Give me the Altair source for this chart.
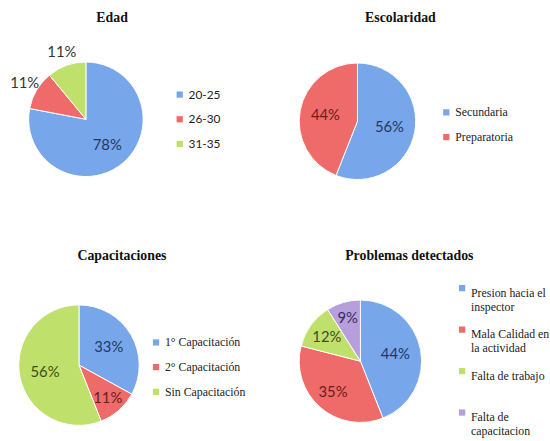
import altair as alt
import pandas as pd

# ---- data ----
edad_cats = ["20-25", "26-30", "31-35"]
edad_vals = [78, 11, 11]

esc_cats = ["Secundaria", "Preparatoria"]
esc_vals = [56, 44]

cap_cats = ["1° Capacitación", "2° Capacitación", "Sin Capacitación"]
cap_vals = [33, 11, 56]

prob_cats = ["Presion hacia el|inspector", "Mala Calidad en|la actividad",
             "Falta de trabajo|\u00a0", "Falta de|capacitacion"]
prob_vals = [44, 35, 12, 9]

BLUE, RED, GREEN, PURPLE = "#78a6ea", "#ee6b69", "#bfe06b", "#b69fdc"
DBLUE, DRED, DGREEN, DPURPLE, GRAY = "#1f3864", "#6b1c1c", "#3f4d1a", "#3b2b5a", "#333333"

SERIF = "Liberation Serif"
SANS = "Liberation Sans Narrow, Lato, sans-serif"


def panel(cats, vals, colors, lcolors, lradius, title, title_dx, cx, cy, R,
          lx, ly, lfont, lsize, rowpad, height, multiline=False):
    df = pd.DataFrame({
        "cat": cats, "val": vals, "idx": list(range(len(cats))),
        "pct": [f"{v}%" for v in vals], "lc": lcolors, "lr": lradius,
    })
    base = alt.Chart(df).encode(
        theta=alt.Theta("val:Q", stack=True),
        order=alt.Order("idx:Q"),
        x=alt.value(cx), y=alt.value(cy),
    )
    leg = dict(orient="none", legendX=lx, legendY=ly, title=None,
               symbolType="square", symbolSize=40, symbolStrokeWidth=0,
               labelFont=lfont, labelFontSize=lsize, labelColor="#222222",
               rowPadding=rowpad, labelOffset=3, labelLimit=300)
    if multiline:
        leg["labelExpr"] = "split(datum.label, '|')"
        leg["labelBaseline"] = "top"
    arc = base.mark_arc(radius=R, stroke="white", strokeWidth=1).encode(
        color=alt.Color("cat:N", sort=cats,
                        scale=alt.Scale(domain=cats, range=colors),
                        legend=alt.Legend(**leg)),
    )
    layers = [arc]
    for r in sorted(set(lradius)):
        t = base.transform_calculate(
            t=f"datum.lr == {r} ? datum.pct : ''"
        ).mark_text(font=SANS, fontSize=15, radius=r).encode(
            text="t:N",
            fill=alt.Fill("lc:N", scale=None),
        )
        layers.append(t)
    return alt.layer(*layers).properties(
        width=275, height=height,
        title=alt.TitleParams(title, font=SERIF, fontSize=14, fontWeight="bold",
                              color="#111111", anchor="middle", frame="group",
                              dx=title_dx, offset=6),
    )


H1, H2 = 185, 168

p1 = panel(edad_cats, edad_vals, [BLUE, RED, GREEN], [DBLUE, GRAY, GRAY],
           [34, 72, 72], "Edad", -24, 87, 90, 58,
           176, 59, SANS, 12, 13, H1)
p2 = panel(esc_cats, esc_vals, [BLUE, RED], [DBLUE, DRED],
           [33, 33], "Escolaridad", -7, 87, 92, 59,
           171, 77, SERIF, 12, 13, H1)
p3 = panel(cap_cats, cap_vals, [BLUE, RED, GREEN], [DBLUE, DRED, DGREEN],
           [35, 44, 35], "Capacitaciones", -14, 80, 97, 61,
           152, 68, SERIF, 12, 13, H2)
p4 = panel(prob_cats, prob_vals, [BLUE, RED, GREEN, PURPLE],
           [DBLUE, DRED, DGREEN, DPURPLE], [36, 42, 42, 46],
           "Problemas detectados", 2, 90, 93, 62,
           187, 13, SERIF, 12, 11, H2, multiline=True)

row1 = alt.hconcat(p1, p2, spacing=0).resolve_scale(color="independent")
row2 = alt.hconcat(p3, p4, spacing=0).resolve_scale(color="independent")

chart = alt.vconcat(row1, row2, spacing=37).resolve_scale(
    color="independent"
).properties(
    padding={"left": 0, "top": 8, "right": 0, "bottom": 0},
    background="white",
).configure_view(stroke=None)

chart.save("out.html", embed_options={"renderer": "svg", "actions": False})
